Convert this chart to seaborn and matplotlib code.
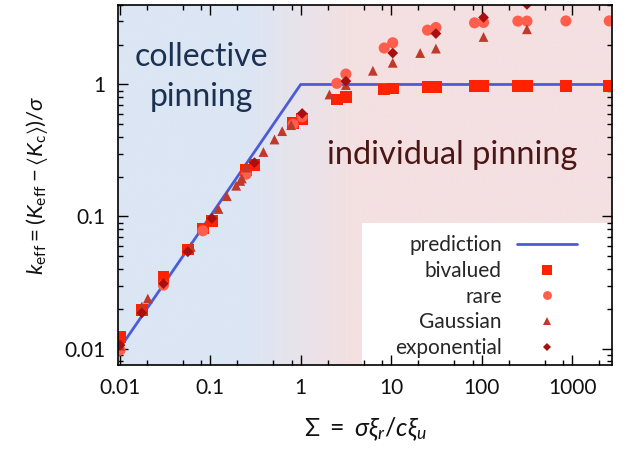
import numpy as np
import pandas as pd
import matplotlib
matplotlib.use("Agg")
import matplotlib.pyplot as plt
import seaborn as sns
from matplotlib.colors import to_rgb
from matplotlib.lines import Line2D
from matplotlib.patches import Rectangle
from matplotlib.ticker import FixedLocator, FixedFormatter, NullFormatter

# ---------------- data ----------------
pred_sigma = [0.0095, 1.0, 3000.0]
pred_k = [0.0095, 1.0, 1.0]

biv_sigma = [0.0101, 0.0176, 0.0305, 0.0567, 0.083, 0.1045, 0.248, 0.309, 0.826, 1.04,
             2.51, 3.16, 8.37, 10.4, 25.2, 31.2, 83.3, 104.8, 251, 316, 851, 2564]
biv_k = [0.0122, 0.0195, 0.0349, 0.0562, 0.081, 0.0926, 0.224, 0.245, 0.512, 0.546,
         0.77, 0.805, 0.916, 0.933, 0.96, 0.96, 0.976, 0.976, 0.976, 0.976, 0.976, 0.976]

rare_sigma = [0.0101, 0.0305, 0.083, 0.25, 0.826, 1.04, 2.51, 3.16, 8.37, 10.4,
              25.2, 31.2, 83.3, 104.8, 251, 316, 851, 2564]
rare_k = [0.0097, 0.0302, 0.078, 0.209, 0.50, 0.57, 1.02, 1.2, 1.89, 2.07,
          2.58, 2.70, 2.93, 2.95, 3.02, 3.02, 3.03, 3.03]

gauss_sigma = [0.0101, 0.0176, 0.0205, 0.0612, 0.1236, 0.153, 0.194, 0.215, 0.224, 0.25,
               0.388, 0.514, 0.625, 0.785, 2.08, 3.16, 6.28, 10.4, 20.9, 31.2, 104.8, 316]
gauss_k = [0.0105, 0.0208, 0.0239, 0.0589, 0.114, 0.1425, 0.171, 0.186, 0.194, 0.235,
           0.308, 0.383, 0.443, 0.492, 0.84, 0.99, 1.27, 1.46, 1.73, 1.87, 2.29, 2.62]

expo_sigma = [0.0101, 0.0176, 0.0305, 0.0567, 0.1045, 0.309, 1.04, 3.16, 10.4, 31.2, 104.8, 316]
expo_k = [0.0106, 0.0186, 0.031, 0.054, 0.0967, 0.256, 0.603, 1.06, 1.73, 2.43, 3.22, 4.04]

x_ticks = [0.01, 0.1, 1, 10, 100, 1000]
x_tick_labels = ["0.01", "0.1", "1", "10", "100", "1000"]
y_ticks = [0.01, 0.1, 1]
y_tick_labels = ["0.01", "0.1", "1"]

series = [
    ("bivalued", biv_sigma, biv_k, "s", "#ff2200", 72),
    ("rare", rare_sigma, rare_k, "o", "#ff5e4c", 64),
    ("Gaussian", gauss_sigma, gauss_k, "^", "#c0392a", 50),
    ("exponential", expo_sigma, expo_k, "D", "#a80f0f", 30),
]

# ---------------- style ----------------
sns.set_theme(style="ticks")
plt.rcParams["font.family"] = ["Lato", "DejaVu Sans"]
plt.rcParams["mathtext.fontset"] = "custom"
plt.rcParams["mathtext.rm"] = "Lato"
plt.rcParams["mathtext.it"] = "Lato:italic"
plt.rcParams["mathtext.bf"] = "Lato:bold"
plt.rcParams["mathtext.sf"] = "Lato"
plt.rcParams["mathtext.fallback"] = "stixsans"

fig = plt.figure(figsize=(6.29, 4.49), dpi=100)
ax = fig.add_axes([118 / 629, 1 - 365 / 449, 494 / 629, 360 / 449])
ax.set_xscale("log")
ax.set_yscale("log")
xmin, xmax = 0.0096, 2750
ymin, ymax = 0.0075, 4.0
ax.set_xlim(xmin, xmax)
ax.set_ylim(ymin, ymax)

# background gradient (blue -> pink)
blue = np.array(to_rgb("#dce6f4"))
pink = np.array(to_rgb("#f4e0e1"))
lx = np.linspace(np.log10(xmin), np.log10(xmax), 600)
t = np.clip((lx - np.log10(0.25)) / (np.log10(4.0) - np.log10(0.25)), 0, 1)
grad = (1 - t)[:, None] * blue + t[:, None] * pink
ax.imshow(grad[None, :, :], extent=[0, 1, 0, 1], transform=ax.transAxes,
          aspect="auto", zorder=0, interpolation="bilinear")

# white legend panel
ax.add_patch(Rectangle((0.494, 0.0), 0.506, 0.395, transform=ax.transAxes,
                       facecolor="white", edgecolor="none", zorder=0.5))

# prediction
pred_df = pd.DataFrame({"sigma": pred_sigma, "k": pred_k})
sns.lineplot(data=pred_df, x="sigma", y="k", ax=ax, color="#4a5cd8", lw=2.0,
             zorder=2, legend=False, estimator=None, sort=False)

for name, sx, sk, mk, col, sz in series:
    df = pd.DataFrame({"sigma": sx, "k": sk})
    sns.scatterplot(data=df, x="sigma", y="k", ax=ax, marker=mk, color=col,
                    s=sz, linewidth=0, edgecolor="none", zorder=3, legend=False)

# ticks
ax.xaxis.set_major_locator(FixedLocator(x_ticks))
ax.xaxis.set_major_formatter(FixedFormatter(x_tick_labels))
xminor = [m * 10.0 ** e for e in range(-2, 4) for m in (2, 5, 8)]
ax.xaxis.set_minor_locator(FixedLocator(xminor))
ax.xaxis.set_minor_formatter(NullFormatter())
ax.yaxis.set_major_locator(FixedLocator(y_ticks))
ax.yaxis.set_major_formatter(FixedFormatter(y_tick_labels))
yminor = [m * 10.0 ** e for e in range(-3, 1) for m in range(2, 10)]
ax.yaxis.set_minor_locator(FixedLocator(yminor))
ax.yaxis.set_minor_formatter(NullFormatter())
ax.tick_params(which="both", direction="in", top=True, right=True, color="black",
               width=1.0, labelsize=15, labelcolor="#111111")
ax.tick_params(which="major", length=7, pad=9)
ax.tick_params(which="minor", length=3.5)
for sp in ax.spines.values():
    sp.set_visible(True)
    sp.set_color("black")
    sp.set_linewidth(1.2)
    sp.set_zorder(5)

ax.set_xlabel(r"$\Sigma\ =\ \sigma\xi_r/c\xi_u$", fontsize=18, labelpad=13, color="#111111")
ax.set_ylabel(r"$k_{\mathrm{eff}} = (K_{\mathrm{eff}} - \langle K_{\mathrm{c}}\rangle)/\sigma$",
              fontsize=16, labelpad=10, color="#111111")

ax.text(0.168, 0.80, "collective\npinning", transform=ax.transAxes, ha="center",
        va="center", fontsize=23, color="#1b3152", linespacing=1.4, zorder=4)
ax.text(0.676, 0.583, "individual pinning", transform=ax.transAxes, ha="center",
        va="center", fontsize=23.5, color="#4b1616", zorder=4)

handles = [Line2D([], [], color="#4a5cd8", lw=2.0)]
labels = ["prediction"]
for name, sx, sk, mk, col, sz in series:
    handles.append(Line2D([], [], marker=mk, color=col, linestyle="none",
                          markersize=np.sqrt(sz) * 0.8, markeredgewidth=0))
    labels.append(name)
leg = ax.legend(handles, labels, loc="lower right", bbox_to_anchor=(0.929, 0.02),
                frameon=False, markerfirst=False, fontsize=15, handlelength=2.9,
                handletextpad=0.7, labelspacing=0.27, borderpad=0, borderaxespad=0)
leg.set_zorder(6)

fig.savefig("out.png", dpi=100)
